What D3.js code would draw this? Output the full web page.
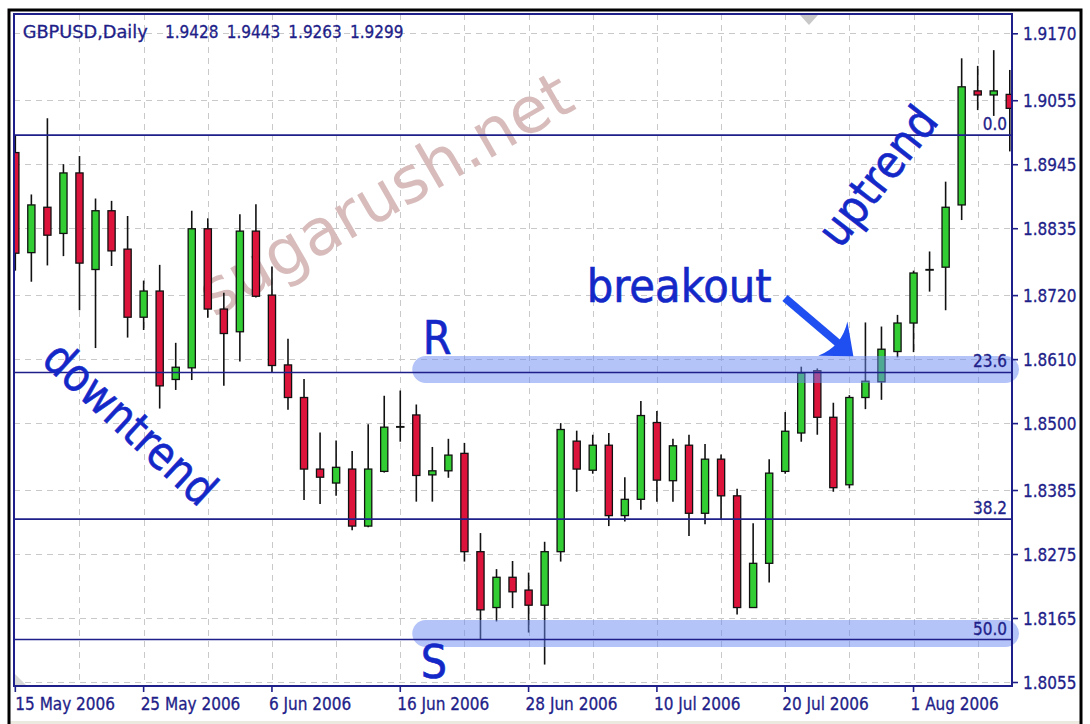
<!DOCTYPE html>
<html><head><meta charset="utf-8">
<script src="https://cdn.jsdelivr.net/npm/d3@7"></script>
<style>
html,body{margin:0;padding:0;background:#fff;}
svg{display:block;}
text{font-family:"DejaVu Sans Condensed","DejaVu Sans",sans-serif;}
</style></head><body>
<svg id="c" width="1090" height="724"></svg>
<script>
// ---------- data ----------
const dates = [
 "2006-05-15","2006-05-16","2006-05-17","2006-05-18","2006-05-19",
 "2006-05-22","2006-05-23","2006-05-24","2006-05-25","2006-05-26",
 "2006-05-29","2006-05-30","2006-05-31","2006-06-01","2006-06-02",
 "2006-06-05","2006-06-06","2006-06-07","2006-06-08","2006-06-09",
 "2006-06-12","2006-06-13","2006-06-14","2006-06-15","2006-06-16",
 "2006-06-19","2006-06-20","2006-06-21","2006-06-22","2006-06-23",
 "2006-06-26","2006-06-27","2006-06-28","2006-06-29","2006-06-30",
 "2006-07-03","2006-07-04","2006-07-05","2006-07-06","2006-07-07",
 "2006-07-10","2006-07-11","2006-07-12","2006-07-13","2006-07-14",
 "2006-07-17","2006-07-18","2006-07-19","2006-07-20","2006-07-21",
 "2006-07-24","2006-07-25","2006-07-26","2006-07-27","2006-07-28",
 "2006-07-31","2006-08-01","2006-08-02","2006-08-03","2006-08-04",
 "2006-08-07","2006-08-08","2006-08-09"];
const opens = [
 1.8965,1.8793,1.8871,1.8826,1.8930, 1.8764,1.8865,1.8799,1.8682,1.8727,
 1.8575,1.8595,1.8834,1.8696,1.8657, 1.8830,1.8720,1.8600,1.8544,1.8421,
 1.8397,1.8421,1.8323,1.8417,1.8493, 1.8514,1.8411,1.8418,1.8448,1.8279,
 1.8183,1.8235,1.8213,1.8187,1.8279, 1.8469,1.8419,1.8462,1.8341,1.8369,
 1.8501,1.8401,1.8462,1.8345,1.8438, 1.8375,1.8183,1.8259,1.8417,1.8483,
 1.8590,1.8510,1.8394,1.8544,1.8571, 1.8623,1.8672,1.8763,1.8768,1.8875,
 1.9071,1.9064,1.9065];
const highs = [
 1.8995,1.8893,1.9024,1.8945,1.8959, 1.8886,1.8882,1.8856,1.8745,1.8772,
 1.8638,1.8865,1.8852,1.8724,1.8859, 1.8876,1.8769,1.8645,1.8576,1.8484,
 1.8470,1.8452,1.8498,1.8547,1.8556, 1.8532,1.8459,1.8473,1.8466,1.8311,
 1.8249,1.8263,1.8243,1.8296,1.8500, 1.8487,1.8480,1.8483,1.8407,1.8538,
 1.8521,1.8473,1.8480,1.8464,1.8446, 1.8387,1.8328,1.8438,1.8519,1.8597,
 1.8594,1.8535,1.8548,1.8673,1.8666, 1.8686,1.8762,1.8795,1.8915,1.9127,
 1.9114,1.9141,1.9107];
const lows = [
 1.8762,1.8743,1.8771,1.8787,1.8694, 1.8629,1.8770,1.8647,1.8660,1.8525,
 1.8557,1.8574,1.8681,1.8564,1.8606, 1.8716,1.8587,1.8523,1.8368,1.8361,
 1.8375,1.8316,1.8321,1.8415,1.8468, 1.8365,1.8365,1.8406,1.8262,1.8128,
 1.8159,1.8182,1.8140,1.8085,1.8262, 1.8382,1.8413,1.8323,1.8331,1.8351,
 1.8365,1.8365,1.8306,1.8326,1.8335, 1.8171,1.8182,1.8226,1.8413,1.8468,
 1.8480,1.8382,1.8388,1.8524,1.8540, 1.8613,1.8622,1.8726,1.8694,1.8849,
 1.9038,1.9028,1.8967];
const closes = [
 1.8792,1.8875,1.8823,1.8930,1.8775, 1.8865,1.8796,1.8682,1.8727,1.8564,
 1.8596,1.8834,1.8696,1.8654,1.8830, 1.8718,1.8599,1.8544,1.8421,1.8407,
 1.8424,1.8323,1.8421,1.8493,1.8494, 1.8410,1.8418,1.8445,1.8279,1.8179,
 1.8235,1.8210,1.8187,1.8279,1.8489, 1.8421,1.8462,1.8341,1.8369,1.8513,
 1.8402,1.8461,1.8345,1.8438,1.8375, 1.8183,1.8259,1.8414,1.8486,1.8586,
 1.8510,1.8389,1.8544,1.8572,1.8627, 1.8672,1.8758,1.8764,1.8871,1.9078,
 1.9064,1.9071,1.9041];
const priceTicks = [1.8055,1.8165,1.8275,1.8385,1.8500,1.8610,1.8720,1.8835,1.8945,1.9055,1.9170];
const dateTicks = ["2006-05-15","2006-05-25","2006-06-06","2006-06-16","2006-06-28","2006-07-10","2006-07-20","2006-08-01"];
const dateTickLabels = ["15 May 2006","25 May 2006","6 Jun 2006","16 Jun 2006","28 Jun 2006","10 Jul 2006","20 Jul 2006","1 Aug 2006"];
const fibLabels = ["0.0","23.6","38.2","50.0"];
const fibValues = [1.8995,1.8587,1.8335,1.8128];
const headerTexts = ["GBPUSD,Daily","1.9428","1.9443","1.9263","1.9299"];
const annotations = ["downtrend","uptrend","breakout","R","S"];
const watermark = "sugarush.net";

// ---------- layout ----------
const W=1090,H=724;
const P={l:14,r:1012,t:14,b:686};
const NAVY="#1f1f8a", BLUE="#1428c8";
const svg=d3.select("#c");
svg.append("rect").attr("width",W).attr("height",H).attr("fill","#fff");
svg.append("rect").attr("x",10).attr("y",721).attr("width",1070).attr("height",3).attr("fill","#ece9e0");

const x=d3.scaleBand().domain(dates).range([7.3,1017.8]).padding(0);
const xc=d=>x(d)+x.bandwidth()/2;
const y=d3.scaleLinear().domain([1.8055,1.9170]).range([682,33.3]);

const defs=svg.append("defs");
defs.append("clipPath").attr("id","pc").append("rect")
  .attr("x",P.l).attr("y",P.t).attr("width",P.r-P.l).attr("height",P.b-P.t);

// grid
const grid=svg.append("g").attr("stroke","#c9c9c9").attr("stroke-width",1).attr("stroke-dasharray","6,5");
grid.selectAll("line.h").data(priceTicks).join("line").attr("class","h")
  .attr("x1",P.l).attr("x2",P.r).attr("y1",d=>Math.round(y(d))+0.5).attr("y2",d=>Math.round(y(d))+0.5);
grid.selectAll("line.v").data(dates.filter((d,i)=>i>0&&i%4===0)).join("line").attr("class","v")
  .attr("x1",d=>Math.round(xc(d))+0.5).attr("x2",d=>Math.round(xc(d))+0.5).attr("y1",P.t).attr("y2",P.b);

// watermark
svg.append("text").text(watermark)
  .attr("transform","translate(214,318) rotate(-30)")
  .style("font-family","'DejaVu Sans',sans-serif")
  .attr("font-size",64).attr("fill","#d8bcbc");

// candles
const bars=dates.map((d,i)=>({d,o:opens[i],h:highs[i],l:lows[i],c:closes[i]}));
const cg=svg.append("g").attr("clip-path","url(#pc)");
cg.selectAll("line.w").data(bars).join("line").attr("class","w")
  .attr("x1",b=>xc(b.d)).attr("x2",b=>xc(b.d))
  .attr("y1",b=>y(b.h)).attr("y2",b=>y(b.l))
  .attr("stroke","#111").attr("stroke-width",1.6);
cg.selectAll("rect.b").data(bars).join("rect").attr("class","b")
  .attr("x",b=>xc(b.d)-3.6).attr("width",7.2)
  .attr("y",b=>y(Math.max(b.o,b.c)))
  .attr("height",b=>Math.max(Math.abs(y(b.o)-y(b.c)),0.6))
  .attr("fill",b=>b.c>=b.o?"#32cd32":"#dc143c")
  .attr("stroke","#111").attr("stroke-width",1.3);

// highlight bands (R and S)
const bandG=svg.append("g");
const bands=[{v:fibValues[1],off:-3},{v:fibValues[3],off:-6}];
bandG.selectAll("rect").data(bands).join("rect")
  .attr("x",xc(dates[24])+12).attr("width",P.r+7-(xc(dates[24])+12))
  .attr("y",b=>y(b.v)+b.off-13.5).attr("height",27).attr("rx",13.5)
  .attr("fill","#6987f1").attr("opacity",0.5);

// fib lines
const fg=svg.append("g");
fg.selectAll("line").data(fibValues).join("line")
  .attr("x1",P.l).attr("x2",P.r).attr("y1",d=>y(d)).attr("y2",d=>y(d))
  .attr("stroke",NAVY).attr("stroke-width",1.6);
fg.selectAll("text").data(fibValues).join("text")
  .attr("x",1007).attr("y",d=>y(d)-5).attr("text-anchor","end")
  .attr("font-size",17).attr("fill",NAVY).attr("stroke",NAVY).attr("stroke-width",0.3)
  .text((d,i)=>fibLabels[i]);

// frame
const fr=svg.append("g").attr("stroke",NAVY).attr("stroke-width",2).attr("fill","none");
fr.append("rect").attr("x",P.l).attr("y",P.t).attr("width",P.r-P.l).attr("height",P.b-P.t);

// axes
const ya=svg.append("g").attr("transform",`translate(${P.r},0)`)
  .call(d3.axisRight(y).tickValues(priceTicks).tickFormat(d3.format(".4f")).tickSize(6).tickPadding(5));
ya.select(".domain").remove();
ya.selectAll("line").attr("stroke",NAVY).attr("stroke-width",1.6);
ya.selectAll("text").attr("font-size",17).attr("fill",NAVY).attr("dy","0.38em")
  .attr("stroke",NAVY).attr("stroke-width",0.3)
  .style("font-family","'DejaVu Sans Condensed','DejaVu Sans',sans-serif");

const xa=svg.append("g").attr("transform",`translate(0,${P.b})`)
  .call(d3.axisBottom(x).tickValues(dateTicks).tickSize(6)
    .tickFormat(d=>dateTickLabels[dateTicks.indexOf(d)]));
xa.select(".domain").remove();
xa.selectAll("line").attr("stroke",NAVY).attr("stroke-width",1.6);
xa.selectAll("text").attr("font-size",17).attr("fill",NAVY)
  .attr("stroke",NAVY).attr("stroke-width",0.3)
  .attr("text-anchor","start").attr("x",(d,i)=>i===0?0:-3).attr("y",24).attr("dy",0)
  .style("font-family","'DejaVu Sans Condensed','DejaVu Sans',sans-serif");

// header
const hx=[22.7,165,226.7,288.3,350];
svg.selectAll("text.hd").data(headerTexts).join("text").attr("class","hd")
  .attr("x",(d,i)=>hx[i]).attr("y",37.5).attr("font-size",17).attr("fill",NAVY)
  .attr("stroke",NAVY).attr("stroke-width",0.3)
  .attr("textLength",(d,i)=>i===0?125:null).attr("lengthAdjust","spacingAndGlyphs")
  .text(d=>d);

// MT4 markers
svg.append("path").attr("d",`M800,15 L818,15 L809,25 Z`).attr("fill","#c8c8c8");
svg.append("path").attr("d",`M15,674 L15,685 L26,685 Z`).attr("fill","#d8d8d8");

// annotations
const ann=svg.append("g").attr("fill",BLUE).attr("stroke",BLUE).attr("stroke-width",0.6).attr("font-size",46);
ann.append("text").text(annotations[0]).attr("transform","translate(40,362) rotate(42.6)").attr("textLength",216).attr("lengthAdjust","spacingAndGlyphs");
ann.append("text").text(annotations[1]).attr("transform","translate(840,250) rotate(-52)");
ann.append("text").text(annotations[2]).attr("x",586.7).attr("y",301.7).attr("textLength",185).attr("lengthAdjust","spacingAndGlyphs");
ann.append("text").text(annotations[3]).attr("x",422.7).attr("y",354);
ann.append("text").text(annotations[4]).attr("x",420.7).attr("y",678.3);

// breakout arrow
const T=[xc(dates[52])+4, y(1.8615)];
const S0=[785,298];
const dx=T[0]-S0[0], dy=T[1]-S0[1], L=Math.hypot(dx,dy);
const u=[dx/L,dy/L], p=[-u[1],u[0]];
const pt=(a,b)=>[T[0]+u[0]*a+p[0]*b, T[1]+u[1]*a+p[1]*b];
const B1=pt(-27,-22.5), B2=pt(-27,22.5), C=pt(-15,0), E=pt(-20,0);
svg.append("line").attr("x1",S0[0]).attr("y1",S0[1]).attr("x2",E[0]).attr("y2",E[1])
  .attr("stroke","#1f4ff0").attr("stroke-width",8);
svg.append("path").attr("d",`M${T} L${B1} Q${C} ${B2} Z`).attr("fill","#1f4ff0");

// outer black frame
svg.append("rect").attr("x",9).attr("y",10).attr("width",1072).attr("height",722)
  .attr("fill","none").attr("stroke","#000").attr("stroke-width",3);
</script>
</body></html>
